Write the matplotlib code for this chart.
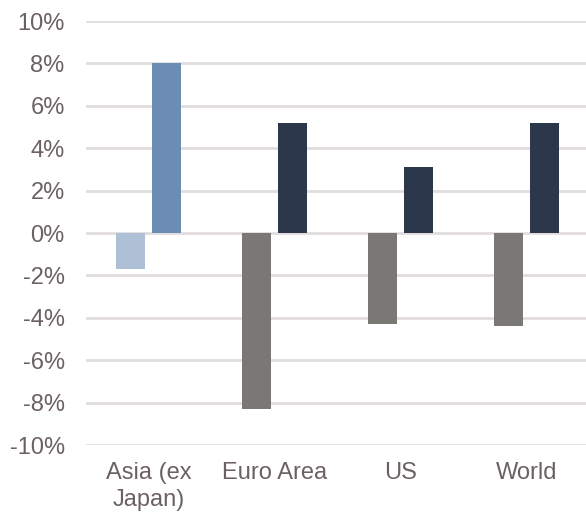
import matplotlib.pyplot as plt
import numpy as np
from matplotlib.ticker import FuncFormatter

plt.rcParams['font.family'] = ['Liberation Sans', 'DejaVu Sans']

# Categories and the two series (in %)
categories = ['Asia (ex\nJapan)', 'Euro Area', 'US', 'World']
series_a = np.array([-1.7, -8.3, -4.3, -4.4])
series_b = np.array([8.0, 5.2, 3.1, 5.2])

# Colours per bar (Asia is highlighted in blue tones)
colors_a = ['#AEC0D6', '#797874', '#797874', '#797874']
colors_b = ['#6C8DB3', '#2D374B', '#2D374B', '#2D374B']

text_color = '#6B6163'
grid_color = '#E1DCDD'

fig = plt.figure(figsize=(5.86, 5.12), dpi=100)
ax = fig.add_axes([85.5 / 586, 67 / 512, 504 / 586, 424 / 512])

x = np.arange(len(categories))
width = 0.23
offset = 0.143

ax.bar(x - offset, series_a, width, color=colors_a, zorder=3)
ax.bar(x + offset, series_b, width, color=colors_b, zorder=3)

ax.set_ylim(-10, 10)
ax.set_yticks(np.arange(-10, 11, 2))
ax.yaxis.set_major_formatter(FuncFormatter(lambda v, p: f'{v:.0f}%'))
ax.set_xlim(-0.5, len(categories) - 0.5)
ax.set_xticks(x)
ax.set_xticklabels(categories)

ax.grid(axis='y', color=grid_color, linewidth=2, zorder=0)
for s in ax.spines.values():
    s.set_visible(False)
ax.tick_params(axis='both', length=0, labelsize=17, colors=text_color)
ax.tick_params(axis='x', pad=12)
ax.tick_params(axis='y', pad=15)
for lbl in ax.get_xticklabels():
    lbl.set_linespacing(1.3)

fig.savefig('out.png', dpi=100)
